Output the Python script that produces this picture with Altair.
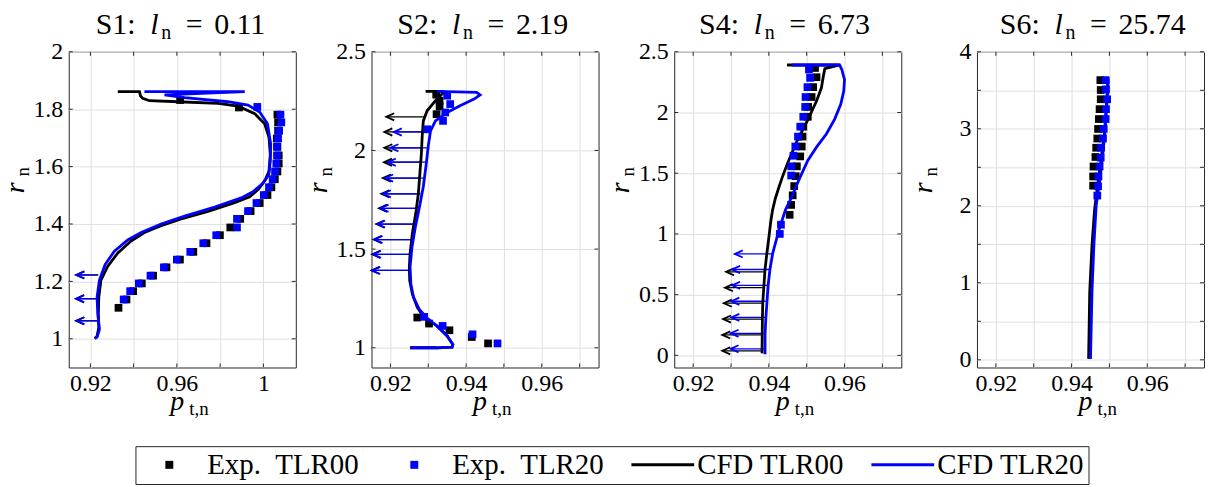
import altair as alt
import pandas as pd

FONT = "'Liberation Serif', 'Times New Roman', 'DejaVu Serif', serif"
NBSP = "\u00a0"

# ---------------- series / legend ----------------
SERIES = ["Exp. TLR00", "Exp. TLR20", "CFD TLR00", "CFD TLR20"]
SERIES_COLORS = ["#000000", "#0000ff", "#000000", "#0000ff"]

STATIONS = ["S1:", "S2:", "S4:", "S6:"]
LN_VALUES = ["0.11", "2.19", "6.73", "25.74"]

# ---------------- axes ----------------
X_DOMAINS = [[0.91, 1.015], [0.915, 0.975], [0.915, 0.975], [0.915, 0.975]]
Y_DOMAINS = [[0.9, 2.0], [0.9, 2.5], [-0.1, 2.5], [-0.1, 4.0]]
X_GRID = [[0.92, 0.94, 0.96, 0.98, 1.0],
          [0.92, 0.93, 0.94, 0.95, 0.96, 0.97],
          [0.92, 0.93, 0.94, 0.95, 0.96, 0.97],
          [0.92, 0.93, 0.94, 0.95, 0.96, 0.97]]
X_LABELS = [[0.92, 0.96, 1.0], [0.92, 0.94, 0.96], [0.92, 0.94, 0.96], [0.92, 0.94, 0.96]]
Y_GRID = [[1.0, 1.2, 1.4, 1.6, 1.8, 2.0],
          [1.0, 1.5, 2.0, 2.5],
          [0.0, 0.5, 1.0, 1.5, 2.0, 2.5],
          [0.0, 0.5, 1.0, 1.5, 2.0, 2.5, 3.0, 3.5, 4.0]]
Y_LABELS = [[1.0, 1.2, 1.4, 1.6, 1.8, 2.0],
            [1.0, 1.5, 2.0, 2.5],
            [0.0, 0.5, 1.0, 1.5, 2.0, 2.5],
            [0.0, 1.0, 2.0, 3.0, 4.0]]

# ---------------- S1 ----------------
S1_EXP00_X = [0.9330, 0.9367, 0.9398, 0.9438, 0.9490, 0.9552, 0.9614, 0.9676, 0.9737, 0.9799, 0.9847, 0.9893,
              0.9941, 0.9983, 1.0019, 1.0037, 1.0053, 1.0065, 1.0071, 1.0071, 1.0065, 1.0062, 1.0068, 1.0068,
              1.0065, 0.9887, 0.9615]
S1_EXP00_Y = [1.108, 1.137, 1.166, 1.193, 1.220, 1.249, 1.276, 1.303, 1.333, 1.361, 1.388, 1.418, 1.445, 1.473,
              1.501, 1.528, 1.556, 1.583, 1.611, 1.639, 1.669, 1.698, 1.725, 1.754, 1.781, 1.806, 1.832]
S1_EXP20_X = [0.9354, 0.9384, 0.9424, 0.9478, 0.9540, 0.9600, 0.9662, 0.9722, 0.9782, 0.9878, 0.9878, 0.9929,
              0.9968, 1.0002, 1.0026, 1.0043, 1.0054, 1.0060, 1.0063, 1.0063, 1.0068, 1.0073, 1.0083, 1.0079,
              0.9972]
S1_EXP20_Y = [1.137, 1.166, 1.193, 1.220, 1.249, 1.276, 1.303, 1.333, 1.361, 1.388, 1.418, 1.445, 1.473, 1.501,
              1.528, 1.556, 1.583, 1.611, 1.639, 1.669, 1.698, 1.725, 1.754, 1.781, 1.808]
S1_CFD00_X = [0.9327, 0.9427, 0.9432, 0.9442, 0.9473, 0.9605, 0.9790, 0.9883, 0.9960, 1.0006, 1.0026, 1.0032,
              1.0026, 1.0009, 0.9978, 0.9937, 0.9867, 0.9744, 0.9620, 0.9527, 0.9450, 0.9388, 0.9327, 0.9280,
              0.9249, 0.9239, 0.9237, 0.9239, 0.9231, 0.9222]
S1_CFD00_Y = [1.8615, 1.8615, 1.8462, 1.8379, 1.8296, 1.8260, 1.8201, 1.8107, 1.7846, 1.7491, 1.7018, 1.6426,
              1.5834, 1.5538, 1.5219, 1.4947, 1.4746, 1.4438, 1.4178, 1.3941, 1.3704, 1.3408, 1.2994, 1.2521,
              1.2047, 1.1456, 1.0864, 1.0391, 1.0095, 1.0012]
S1_CFD20_X = [0.9450, 0.9914, 0.9543, 0.9636, 0.9836, 0.9929, 0.9983, 1.0019, 1.0034, 1.0032, 1.0025, 0.9998,
              0.9952, 0.9898, 0.9775, 0.9636, 0.9527, 0.9435, 0.9373, 0.9311, 0.9268, 0.9242, 0.9231, 0.9234,
              0.9242, 0.9231, 0.9219]
S1_CFD20_Y = [1.8615, 1.8615, 1.8497, 1.8402, 1.8260, 1.8142, 1.7905, 1.7491, 1.6781, 1.6189, 1.5716, 1.5420,
              1.5124, 1.4911, 1.4592, 1.4272, 1.4000, 1.3704, 1.3444, 1.3053, 1.2580, 1.2047, 1.1456, 1.0864,
              1.0331, 1.0059, 1.0012]
S1_ARR00_Y = [1.2225, 1.1396, 1.0627]
S1_ARR00_TAIL = [0.9237, 0.9239, 0.9237]
S1_ARR00_TIP = [0.9134, 0.9134, 0.9134]
S1_ARR20_Y = [1.2225, 1.1396, 1.0627]
S1_ARR20_TAIL = [0.9234, 0.9232, 0.9236]
S1_ARR20_TIP = [0.9136, 0.9134, 0.9136]

# ---------------- S2 ----------------
S2_EXP00_X = [0.9321, 0.9330, 0.9330, 0.9322, 0.9271, 0.9302, 0.9356, 0.9415, 0.9458]
S2_EXP00_Y = [2.2828, 2.2521, 2.2232, 2.1840, 1.1533, 1.1227, 1.0886, 1.0545, 1.0221]
S2_EXP20_X = [0.9350, 0.9358, 0.9345, 0.9339, 0.9297, 0.9289, 0.9338, 0.9417, 0.9483]
S2_EXP20_Y = [2.2777, 2.2351, 2.1925, 2.1499, 2.1073, 1.1567, 1.1107, 1.0681, 1.0221]
S2_CFD00_X = [0.9293, 0.9337, 0.9339, 0.9319, 0.9297, 0.9287, 0.9284, 0.9282, 0.9278, 0.9274, 0.9267, 0.9258,
              0.9252, 0.9250, 0.9251, 0.9258, 0.9271, 0.9289, 0.9323, 0.9350, 0.9365, 0.9363, 0.9323, 0.9252]
S2_CFD00_Y = [2.2998, 2.2998, 2.2913, 2.2521, 2.2010, 2.1499, 2.0733, 1.9881, 1.8859, 1.7836, 1.6814, 1.5792,
              1.4770, 1.4089, 1.3407, 1.2726, 1.2044, 1.1533, 1.1107, 1.0596, 1.0170, 1.0034, 1.0000, 1.0000]
S2_CFD20_X = [0.9323, 0.9428, 0.9437, 0.9421, 0.9384, 0.9350, 0.9319, 0.9306, 0.9300, 0.9294, 0.9287, 0.9277,
              0.9266, 0.9257, 0.9252, 0.9254, 0.9261, 0.9276, 0.9297, 0.9323, 0.9350, 0.9365, 0.9363, 0.9323,
              0.9252]
S2_CFD20_Y = [2.2998, 2.2947, 2.2811, 2.2606, 2.2266, 2.1925, 2.1499, 2.0988, 2.0221, 1.9199, 1.8177, 1.7155,
              1.6133, 1.5111, 1.4089, 1.3237, 1.2555, 1.1959, 1.1499, 1.1107, 1.0596, 1.0170, 1.0034, 1.0000,
              1.0000]
S2_ARR00_Y = [2.1704, 2.0937, 2.0136, 1.9404, 1.8603, 1.7802, 1.7070, 1.6269, 1.5486, 1.4736, 1.3918]
S2_ARR00_TAIL = [0.9289, 0.9286, 0.9284, 0.9283, 0.9280, 0.9276, 0.9270, 0.9263, 0.9256, 0.9252, 0.9250]
S2_ARR00_TIP = [0.9189, 0.9184, 0.9184, 0.9183, 0.9180, 0.9176, 0.9170, 0.9163, 0.9156, 0.9152, 0.9150]
S2_ARR20_Y = [2.0937, 2.0136, 1.9404, 1.8603, 1.7802, 1.7070, 1.6269, 1.5486, 1.4736, 1.3918]
S2_ARR20_TAIL = [0.9304, 0.9299, 0.9296, 0.9289, 0.9280, 0.9271, 0.9263, 0.9256, 0.9252, 0.9250]
S2_ARR20_TIP = [0.9209, 0.9200, 0.9193, 0.9186, 0.9180, 0.9174, 0.9165, 0.9158, 0.9154, 0.9152]

# ---------------- S4 ----------------
S4_EXP00_X = [0.9522, 0.9526, 0.9517, 0.9513, 0.9504, 0.9503, 0.9491, 0.9489, 0.9487, 0.9483, 0.9474, 0.9471,
              0.9467, 0.9463, 0.9459, 0.9455]
S4_EXP00_Y = [2.3668, 2.2908, 2.2092, 2.1277, 2.0462, 1.9647, 1.8832, 1.8016, 1.7201, 1.6386, 1.5571, 1.4755,
              1.3940, 1.3179, 1.2391, 1.1576]
S4_EXP20_X = [0.9506, 0.9509, 0.9502, 0.9497, 0.9496, 0.9491, 0.9483, 0.9477, 0.9470, 0.9465, 0.9459, 0.9459,
              0.9432, 0.9429]
S4_EXP20_Y = [2.3533, 2.2853, 2.2092, 2.1277, 2.0462, 1.9647, 1.8832, 1.8016, 1.7201, 1.6440, 1.5571, 1.4810,
              1.0761, 1.0000]
S4_CFD00_X = [0.9448, 0.9587, 0.9548, 0.9544, 0.9539, 0.9526, 0.9504, 0.9475, 0.9449, 0.9437, 0.9427, 0.9417,
              0.9410, 0.9405, 0.9401, 0.9395, 0.9390, 0.9387, 0.9384, 0.9383, 0.9382]
S4_CFD00_Y = [2.3913, 2.3913, 2.3614, 2.2989, 2.2038, 2.0951, 1.9457, 1.7690, 1.5788, 1.4800, 1.3886, 1.2900,
              1.1984, 1.1000, 0.9946, 0.8451, 0.7092, 0.5734, 0.4375, 0.3016, 0.0163]
S4_CFD20_X = [0.9461, 0.9587, 0.9593, 0.9600, 0.9598, 0.9590, 0.9574, 0.9552, 0.9526, 0.9503, 0.9483, 0.9468,
              0.9457, 0.9444, 0.9427, 0.9410, 0.9403, 0.9398, 0.9395, 0.9392, 0.9390, 0.9390]
S4_CFD20_Y = [2.3913, 2.3913, 2.3533, 2.2717, 2.1766, 2.0679, 1.9457, 1.8234, 1.7147, 1.6060, 1.4701, 1.3614,
              1.2799, 1.1984, 1.0353, 0.8370, 0.7092, 0.5734, 0.4375, 0.3016, 0.1658, 0.0082]
S4_ARR00_Y = [0.6881, 0.5575, 0.4295, 0.2989, 0.1682, 0.0376]
S4_ARR00_TAIL = [0.9388, 0.9384, 0.9382, 0.9380, 0.9379, 0.9379]
S4_ARR00_TIP = [0.9287, 0.9284, 0.9281, 0.9279, 0.9277, 0.9277]
S4_ARR20_Y = [0.8351, 0.7071, 0.5765, 0.4458, 0.3125, 0.1818, 0.0539]
S4_ARR20_TAIL = [0.9408, 0.9402, 0.9397, 0.9392, 0.9390, 0.9388, 0.9387]
S4_ARR20_TIP = [0.9310, 0.9303, 0.9303, 0.9301, 0.9301, 0.9299, 0.9299]

# ---------------- S6 ----------------
S6_EXP00_X = [0.9476, 0.9477, 0.9477, 0.9474, 0.9472, 0.9470, 0.9468, 0.9465, 0.9463, 0.9458, 0.9457, 0.9457]
S6_EXP00_Y = [3.6324, 3.5039, 3.3839, 3.2554, 3.1268, 2.9983, 2.8740, 2.7541, 2.6341, 2.5099, 2.3813, 2.2614]
S6_EXP20_X = [0.9490, 0.9491, 0.9494, 0.9491, 0.9490, 0.9485, 0.9483, 0.9478, 0.9477, 0.9474, 0.9471, 0.9470,
              0.9468]
S6_EXP20_Y = [3.6324, 3.5124, 3.3839, 3.2554, 3.1268, 2.9983, 2.8740, 2.7541, 2.6255, 2.5099, 2.3813, 2.2528,
              2.1328]
S6_CFD00_X = [0.9445, 0.9448, 0.9454, 0.9461, 0.9470, 0.9478, 0.9487, 0.9493, 0.9496]
S6_CFD00_Y = [0.0120, 0.8903, 1.4901, 1.9614, 2.3042, 2.6041, 2.9469, 3.3753, 3.6324]
S6_CFD20_X = [0.9450, 0.9454, 0.9459, 0.9465, 0.9474, 0.9481, 0.9488, 0.9494, 0.9497]
S6_CFD20_Y = [0.0120, 0.8903, 1.4901, 2.0043, 2.3042, 2.6041, 2.9469, 3.3753, 3.6538]

PANELS = [
    dict(exp00=(S1_EXP00_X, S1_EXP00_Y), exp20=(S1_EXP20_X, S1_EXP20_Y),
         cfd00=(S1_CFD00_X, S1_CFD00_Y), cfd20=(S1_CFD20_X, S1_CFD20_Y),
         arr00=(S1_ARR00_Y, S1_ARR00_TAIL, S1_ARR00_TIP), arr20=(S1_ARR20_Y, S1_ARR20_TAIL, S1_ARR20_TIP)),
    dict(exp00=(S2_EXP00_X, S2_EXP00_Y), exp20=(S2_EXP20_X, S2_EXP20_Y),
         cfd00=(S2_CFD00_X, S2_CFD00_Y), cfd20=(S2_CFD20_X, S2_CFD20_Y),
         arr00=(S2_ARR00_Y, S2_ARR00_TAIL, S2_ARR00_TIP), arr20=(S2_ARR20_Y, S2_ARR20_TAIL, S2_ARR20_TIP)),
    dict(exp00=(S4_EXP00_X, S4_EXP00_Y), exp20=(S4_EXP20_X, S4_EXP20_Y),
         cfd00=(S4_CFD00_X, S4_CFD00_Y), cfd20=(S4_CFD20_X, S4_CFD20_Y),
         arr00=(S4_ARR00_Y, S4_ARR00_TAIL, S4_ARR00_TIP), arr20=(S4_ARR20_Y, S4_ARR20_TAIL, S4_ARR20_TIP)),
    dict(exp00=(S6_EXP00_X, S6_EXP00_Y), exp20=(S6_EXP20_X, S6_EXP20_Y),
         cfd00=(S6_CFD00_X, S6_CFD00_Y), cfd20=(S6_CFD20_X, S6_CFD20_Y),
         arr00=None, arr20=None),
]

# ---------------- styling ----------------
W, H = 228, 317
TICK = 4
FRAME = "#262626"
TITLE_ANCHOR = [67, 66, 65, 63]   # right end of "S#:" inside each panel
TITLE_FONT = 30
LEG_FONT = 29
# legend glyphs (unit = 2 px): square marker placed right of the symbol anchor, line spans the anchor
SQ_PATH = "M5.75,-2L9.75,-2L9.75,2L5.75,2Z"
LN_PATH = "M-6.25,-0.75L25.25,-0.75L25.25,0.75L-6.25,0.75Z"
LEGEND_SHAPES = [SQ_PATH, SQ_PATH, LN_PATH, LN_PATH]
HEAD_PATH = "M2,-0.9L0,0L2,0.9"

color_scale = alt.Scale(domain=SERIES, range=SERIES_COLORS)


def label_expr(vals):
    keys = ",".join(str(int(round(v * 100))) for v in vals)
    return f"indexof([{keys}], round(datum.value*100)) >= 0 ? format(datum.value, '~g') : ''"


def piece(text, x, y, size, italic=False, align="left", angle=None, baseline="alphabetic"):
    kw = dict(font=FONT, fontSize=size, align=align, baseline=baseline, color="#000000")
    if italic:
        kw["fontStyle"] = "italic"
    if angle is not None:
        kw["angle"] = angle
    return alt.Chart(pd.DataFrame({"t": [text]})).mark_text(**kw).encode(
        text="t:N", x=alt.value(x), y=alt.value(y))


def make_panel(i):
    p = PANELS[i]
    xs = alt.Scale(domain=X_DOMAINS[i], nice=False, zero=False)
    ys = alt.Scale(domain=Y_DOMAINS[i], nice=False, zero=False)
    common = dict(title=None, ticks=False, domain=False, labelFlush=False, labelOverlap=False,
                  labelFont=FONT, labelFontSize=24, labelColor="#000000",
                  gridColor="#dfdfdf", gridWidth=1, gridOpacity=1)
    xax = alt.Axis(values=X_GRID[i], labelExpr=label_expr(X_LABELS[i]), labelPadding=4, **common)
    yax = alt.Axis(values=Y_GRID[i], labelExpr=label_expr(Y_LABELS[i]), labelPadding=6, **common)

    def xenc(f):
        return alt.X(f + ":Q", scale=xs, axis=xax)

    def yenc(f="y"):
        return alt.Y(f + ":Q", scale=ys, axis=yax)

    cenc = alt.Color("series:N", scale=color_scale, legend=None)

    layers = []
    if i == 0:
        # invisible driver layer (null positions) that carries the shared legend; must come first
        legend = alt.Legend(title=None, orient="none", legendX=67, legendY=396, direction="horizontal",
                            columns=4, symbolSize=16, symbolStrokeWidth=0, symbolOpacity=1,
                            labelFont=FONT, labelFontSize=LEG_FONT, labelColor="#000000", labelOffset=39,
                            labelLimit=500, columnPadding=25, padding=4, strokeColor=FRAME,
                            fillColor="#ffffff",
                            labelExpr=f"replace(datum.label, '. ', '.{NBSP}{NBSP}')")
        dfl = pd.DataFrame({"series": SERIES, "x": [None] * 4, "y": [None] * 4})
        layers.append(alt.Chart(dfl).mark_point(filled=True, opacity=1).encode(
            x=xenc("x"), y=yenc(),
            color=alt.Color("series:N", scale=color_scale, legend=legend),
            shape=alt.Shape("series:N", scale=alt.Scale(domain=SERIES, range=LEGEND_SHAPES), legend=legend)))

    # inward tick marks on all four sides of the box (at the grid positions)
    dfx = pd.DataFrame({"gx": X_GRID[i]})
    dfy = pd.DataFrame({"gy": Y_GRID[i]})
    tick_kw = dict(color=FRAME, strokeWidth=1)
    layers += [
        alt.Chart(dfx).mark_rule(**tick_kw).encode(x=xenc("gx"), y=alt.value(H), y2=alt.value(H - TICK)),
        alt.Chart(dfx).mark_rule(**tick_kw).encode(x=xenc("gx"), y=alt.value(0), y2=alt.value(TICK)),
        alt.Chart(dfy).mark_rule(**tick_kw).encode(y=yenc("gy"), x=alt.value(0), x2=alt.value(TICK)),
        alt.Chart(dfy).mark_rule(**tick_kw).encode(y=yenc("gy"), x=alt.value(W), x2=alt.value(W - TICK)),
    ]

    for key, name in (("arr00", SERIES[0]), ("arr20", SERIES[1])):
        if p[key] is None:
            continue
        ay, tail, tip = p[key]
        df = pd.DataFrame({"y": ay, "tail": tail, "tip": tip, "series": name})
        layers.append(alt.Chart(df).mark_rule(strokeWidth=1.3).encode(
            x=xenc("tail"), x2="tip:Q", y=yenc(), color=cenc))
        layers.append(alt.Chart(df).mark_point(shape=HEAD_PATH, size=64, filled=False, strokeWidth=1.8,
                                               opacity=1).encode(x=xenc("tip"), y=yenc(), color=cenc))

    for ekey, ckey, ename, cname in (("exp00", "cfd00", SERIES[0], SERIES[2]),
                                     ("exp20", "cfd20", SERIES[1], SERIES[3])):
        ex, ey = p[ekey]
        dfe = pd.DataFrame({"x": ex, "y": ey, "series": ename})
        layers.append(alt.Chart(dfe).mark_point(shape="square", filled=True, size=60, opacity=1,
                                                strokeWidth=0).encode(x=xenc("x"), y=yenc(), color=cenc))
        cx, cy = p[ckey]
        dfc = pd.DataFrame({"x": cx, "y": cy, "series": cname, "idx": list(range(len(cx)))})
        layers.append(alt.Chart(dfc).mark_line(strokeWidth=2.8).encode(
            x=xenc("x"), y=yenc(), color=cenc, order="idx:Q"))

    a = TITLE_ANCHOR[i]
    layers += [
        piece(STATIONS[i], a, -18, TITLE_FONT, align="right"),
        piece("l", a + 19, -18, TITLE_FONT, italic=True, align="center"),
        piece("n", a + 31, -13, 20, align="center"),
        piece("=", a + 59, -18, TITLE_FONT, align="center"),
        piece(LN_VALUES[i], a + 79, -18, TITLE_FONT, align="left"),
        piece("p", 109, H + 43, 28, italic=True, align="center"),
        piece("t,n", 121, H + 48, 19, align="left"),
        piece("r", -45, H / 2 - 22, 28, italic=True, align="center", angle=270),
        piece("n", -40, H / 2 - 38, 19, align="center", angle=270),
    ]
    return alt.layer(*layers).properties(width=W, height=H)


chart = alt.hconcat(*[make_panel(i) for i in range(4)], spacing=76, bounds="flush").properties(
    padding={"left": -7, "top": 0, "right": 5, "bottom": 0}
).configure_view(stroke=FRAME, strokeWidth=1)

chart.save("out.html", embed_options={"renderer": "svg", "actions": False})
